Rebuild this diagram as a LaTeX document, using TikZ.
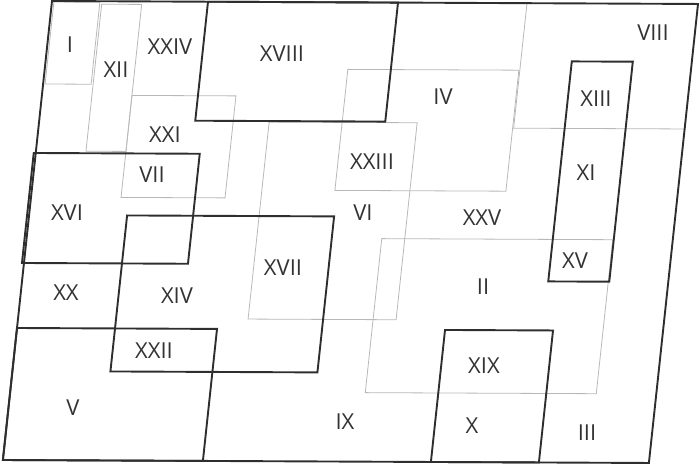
\documentclass[tikz,border=0pt]{standalone}
\usepackage{fontspec}
\setmainfont{Open Sans}
\tikzset{
  heavy/.style={draw=black!82, line width=1.9pt, line join=miter},
  light/.style={draw=black!28, line width=0.8pt},
  lab/.style={text=black!80, font=\fontsize{22}{26}\selectfont, inner sep=0pt}
}
\begin{document}
\begin{tikzpicture}[x=1pt,y=-1pt]
\useasboundingbox (0,0) rectangle (700,465);
\begin{scope}[shift={(52,1)}, cm={1,-0.0046,0.107,1,(0,0)}]
  % thin grey zones
  \draw[light] (2,1) rectangle (48,83);        % I
  \draw[light] (50,3) rectangle (90,150);      % XII
  \draw[light] (90,94) rectangle (194,196);    % XXI / VII
  \draw[light] (303,67) rectangle (474,188);   % IV / XXIII
  \draw[light] (230,120) rectangle (378,317);  % VI / XVII
  \draw[light] (355,236) rectangle (586,390);  % II
  \draw[light] (475,0) -- (475,125) -- (646,125); % VIII border
  % thick zones
  \draw[heavy] (0,0) rectangle (646,459);      % outer
  \draw[heavy] (156,0) rectangle (346,119);    % XVIII
  \draw[heavy] (-2,152) rectangle (164,262);   % XVI
  \draw[heavy] (98,214) rectangle (305,370);   % XIV
  \draw[heavy] (0,327) rectangle (200,459);    % V
  \draw[heavy] (526,58) rectangle (587,278);   % XIII / XI / XV
  \draw[heavy] (428,327) rectangle (536,459);  % XIX / X
\end{scope}
\node[lab] (n1)  at (70,45)   {I};
\node[lab] (n2)  at (483,287) {II};
\node[lab] (n3)  at (587,433) {III};
\node[lab] (n4)  at (443,97)  {IV};
\node[lab] (n5)  at (73,408)  {V};
\node[lab] (n6)  at (363,213) {VI};
\node[lab] (n7)  at (152,175) {VII};
\node[lab] (n8)  at (653,33)  {VIII};
\node[lab] (n9)  at (345,422) {IX};
\node[lab] (n10) at (472,426) {X};
\node[lab] (n11) at (586,173) {XI};
\node[lab] (n12) at (116,70)  {XII};
\node[lab] (n13) at (596,99)  {XIII};
\node[lab] (n14) at (177,296) {XIV};
\node[lab] (n15) at (575,261) {XV};
\node[lab] (n16) at (67,213)  {XVI};
\node[lab] (n17) at (283,268) {XVII};
\node[lab] (n18) at (282,54)  {XVIII};
\node[lab] (n19) at (484,366) {XIX};
\node[lab] (n20) at (66,293)  {XX};
\node[lab] (n21) at (165,135) {XXI};
\node[lab] (n22) at (154,351) {XXII};
\node[lab] (n23) at (372,162) {XXIII};
\node[lab] (n24) at (170,47)  {XXIV};
\node[lab] (n25) at (482,218) {XXV};
\end{tikzpicture}
\end{document}
